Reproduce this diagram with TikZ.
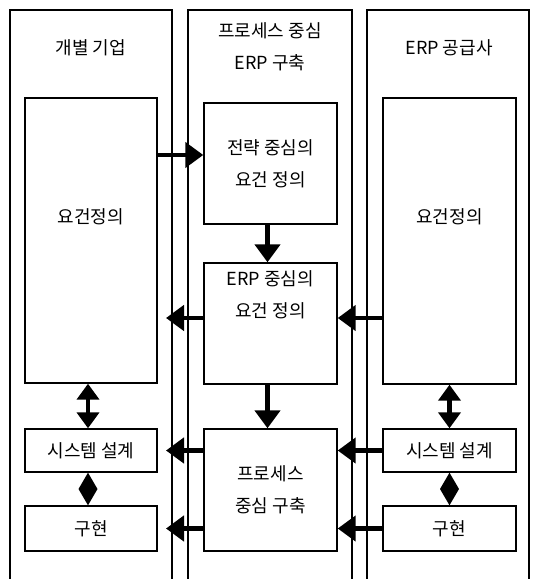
\documentclass[tikz,border=0pt]{standalone}
\usepackage{fontspec}
\setmainfont{Noto Sans CJK KR}
\usetikzlibrary{arrows.meta,calc}
\tikzset{
  lane/.style={line width=1.2pt},
  box/.style={draw, line width=1.4pt, inner sep=0pt},
  txt/.style={font=\fontsize{18}{32}\selectfont, align=center, inner sep=0pt},
  bigarrow/.style={line width=4.5pt, -{Triangle[length=18pt,width=25pt]}},
  dblarrow/.style={line width=4.5pt, {Triangle[length=16pt,width=22pt]}-{Triangle[length=16pt,width=22pt]}},
}
\begin{document}
\begin{tikzpicture}[x=1pt,y=-1pt]
\useasboundingbox (0,0) rectangle (533,579);
% lanes
\draw[lane] (10,579) -- (10,10) -- (172,10) -- (172,579);
\draw[lane] (188,579) -- (188,10) -- (352,10) -- (352,579);
\draw[lane] (367,579) -- (367,10) -- (529,10) -- (529,579);
% headers
\node[txt] (h1) at (91,48) {개별 기업};
\node[txt] (h2) at (270,47) {프로세스 중심\\ERP 구축};
\node[txt] (h3) at (449,48) {ERP 공급사};
% left boxes
\node[box, minimum width=132, minimum height=285] (reqL) at (91,240.5) {};
\node[txt] (reqLt) at (91,217) {요건정의};
\node[box, minimum width=132, minimum height=43] (sysL) at (91,450.5) {};
\node[txt] at (sysL) {시스템 설계};
\node[box, minimum width=132, minimum height=45] (impL) at (91,528.5) {};
\node[txt] at (impL) {구현};
% middle boxes
\node[box, minimum width=133, minimum height=121] (strat) at (270.5,163.5) {};
\node[txt] at (strat) {전략 중심의\\요건 정의};
\node[box, minimum width=133, minimum height=121] (erp) at (270.5,323.5) {};
\node[txt] (erpt) at (270.5,295) {ERP 중심의\\요건 정의};
\node[box, minimum width=133, minimum height=122] (proc) at (270.5,490) {};
\node[txt] at (proc) {프로세스\\중심 구축};
% right boxes
\node[box, minimum width=133, minimum height=286] (reqR) at (449.5,241) {};
\node[txt] (reqRt) at (449.5,217) {요건정의};
\node[box, minimum width=133, minimum height=43] (sysR) at (449.5,450.5) {};
\node[txt] at (sysR) {시스템 설계};
\node[box, minimum width=133, minimum height=45] (impR) at (449.5,528.5) {};
\node[txt] at (impR) {구현};
% tip coordinate for arrows into left lane
\coordinate (tipL) at (166,0);
% arrows
\draw[bigarrow] (reqL.east |- 0,155) -- (strat.west |- 0,155);
\draw[bigarrow] ([xshift=-3pt]strat.south) -- ([xshift=-3pt]erp.north);
\draw[bigarrow] ([xshift=-3pt]erp.south) -- ([xshift=-3pt]proc.north);
\draw[bigarrow] (erp.west |- 0,318) -- (tipL |- 0,318);
\draw[bigarrow] (reqR.west |- 0,318) -- (erp.east |- 0,318);
\draw[bigarrow] (proc.west |- sysL.east) -- (tipL |- sysL.east);
\draw[bigarrow] (proc.west |- impL.east) -- (tipL |- impL.east);
\draw[bigarrow] (sysR.west) -- (proc.east |- sysR.west);
\draw[bigarrow] (impR.west) -- (proc.east |- impR.west);
\draw[dblarrow] ([xshift=-3pt]reqL.south) -- ([xshift=-3pt]sysL.north);
\draw[dblarrow] (reqR.south) -- (sysR.north);
% diamonds
\fill ([xshift=-3pt]sysL.south) -- ($(sysL.south)!0.5!(impL.north)+(6.5,0)$) -- ([xshift=-3pt]impL.north) -- ($(sysL.south)!0.5!(impL.north)+(-12.5,0)$) -- cycle;
\fill (sysR.south) -- ($(sysR.south)!0.5!(impR.north)+(9.5,0)$) -- (impR.north) -- ($(sysR.south)!0.5!(impR.north)+(-9.5,0)$) -- cycle;
\end{tikzpicture}
\end{document}
